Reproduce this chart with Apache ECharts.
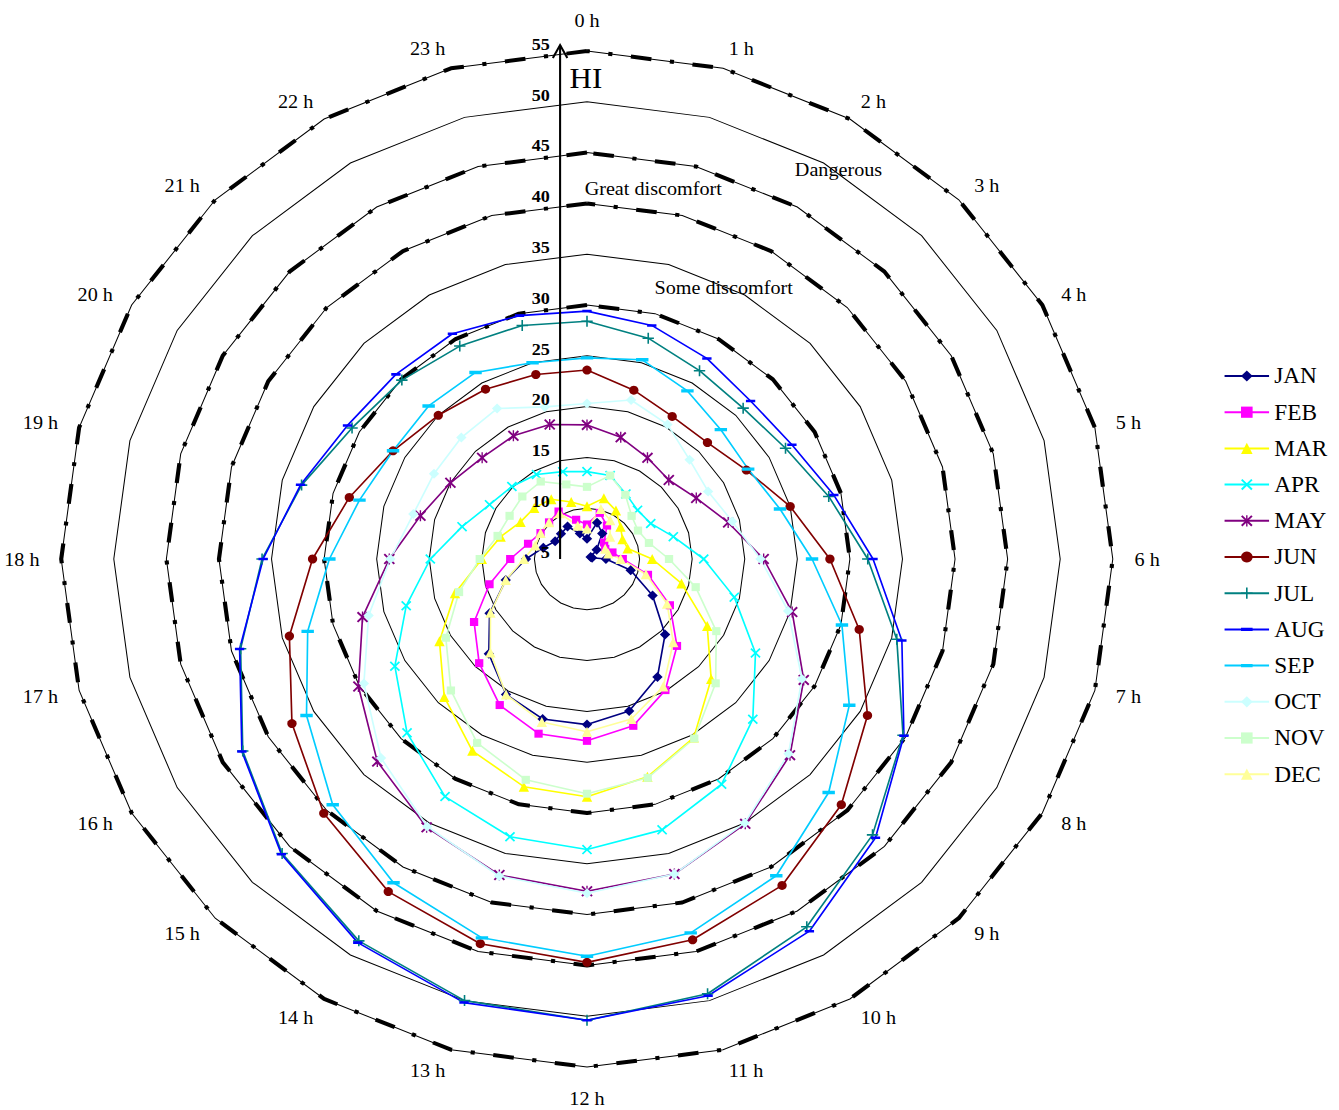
<!DOCTYPE html>
<html>
<head>
<meta charset="utf-8">
<script src="https://cdn.jsdelivr.net/npm/echarts@6/dist/echarts.min.js"></script>
<style>
html,body{margin:0;padding:0;background:#ffffff;overflow:hidden;}
#chart{width:1339px;height:1110px;transform:scaleX(1.035);transform-origin:587px 0;}
</style>
</head>
<body>
<div id="chart"></div>
<script>
// ---------------- DATA ----------------
const hours = ['0 h','1 h','2 h','3 h','4 h','5 h','6 h','7 h','8 h','9 h','10 h','11 h',
               '12 h','13 h','14 h','15 h','16 h','17 h','18 h','19 h','20 h','21 h','22 h','23 h'];
const hiTicks = [5, 10, 15, 20, 25, 30, 35, 40, 45, 50, 55];
const hiMin = 5;
const hiMax = 55;
const comfortLevels = [30, 40, 45, 55];
const comfortNames = ['Some discomfort', 'Great discomfort', 'Dangerous'];
const months = ['JAN','FEB','MAR','APR','MAY','JUN','JUL','AUG','SEP','OCT','NOV','DEC'];

const JAN = [7.0, 8.7, 7.9, 6.3, 5.4, 5.5, 6.8, 9.3, 12.2, 15.5, 18.4, 20.5, 21.3, 21.3, 20.4, 18.2, 15.7, 13.0, 10.8, 9.3, 8.5, 8.5, 8.7, 7.6];
const FEB = [8.4, 9.7, 8.8, 7.3, 7.0, 7.5, 8.4, 11.0, 14.1, 17.1, 19.9, 22.0, 22.9, 22.8, 21.6, 19.5, 17.4, 14.6, 12.3, 10.8, 10.1, 10.1, 10.4, 9.0];
const MAR = [10.2, 11.2, 10.5, 9.5, 8.9, 9.0, 11.2, 14.3, 18.2, 21.7, 25.3, 27.2, 28.4, 28.2, 26.8, 24.2, 21.2, 18.0, 15.0, 13.5, 12.3, 12.1, 11.8, 10.8];
const APR = [13.6, 13.5, 12.4, 11.8, 12.0, 13.5, 16.1, 19.5, 23.5, 27.3, 30.6, 32.6, 33.6, 33.3, 32.0, 29.2, 26.1, 22.8, 19.9, 17.3, 15.7, 15.1, 14.6, 13.9];
const MAY = [18.2, 17.4, 16.5, 16.0, 17.0, 18.9, 21.8, 25.2, 28.8, 32.3, 35.1, 37.1, 37.7, 37.2, 35.5, 33.2, 30.1, 27.1, 23.8, 21.4, 20.0, 19.1, 19.0, 18.7];
const JUN = [23.6, 22.2, 21.2, 21.2, 22.5, 25.0, 28.1, 31.8, 35.8, 39.2, 42.1, 43.8, 44.7, 44.2, 42.8, 40.4, 37.4, 34.3, 31.1, 28.4, 26.3, 25.0, 24.3, 23.8];
const JUL = [28.4, 27.5, 26.4, 26.0, 26.8, 28.8, 31.7, 35.5, 39.7, 43.4, 46.8, 49.3, 50.4, 50.0, 48.4, 46.0, 42.8, 39.1, 35.9, 33.1, 30.8, 29.9, 29.2, 28.8];
const AUG = [29.4, 28.8, 27.8, 27.0, 27.5, 29.3, 32.2, 36.0, 39.8, 43.8, 47.3, 49.5, 50.4, 50.2, 48.6, 46.1, 42.9, 39.2, 35.8, 33.2, 31.3, 30.7, 30.6, 29.8];
const SEP = [24.8, 25.3, 24.1, 23.0, 22.7, 24.0, 26.4, 30.1, 33.8, 37.5, 41.0, 43.1, 44.1, 43.6, 41.8, 39.2, 35.8, 32.5, 29.5, 27.4, 26.3, 26.3, 26.2, 25.0];
const OCT = [20.3, 21.2, 20.3, 18.8, 18.3, 19.3, 21.5, 24.8, 28.6, 32.1, 35.0, 37.1, 37.9, 37.3, 35.4, 32.7, 29.5, 26.5, 23.7, 22.1, 21.8, 21.9, 22.1, 20.5];
const NOV = [12.1, 13.5, 12.3, 11.0, 10.6, 11.1, 12.8, 15.7, 19.2, 22.3, 25.4, 27.3, 28.1, 27.5, 25.9, 23.3, 20.5, 17.6, 15.2, 13.8, 13.5, 13.7, 13.8, 12.6];
const DEC = [8.0, 10.1, 9.4, 8.1, 7.0, 7.1, 8.2, 10.8, 13.8, 16.6, 19.5, 21.3, 22.0, 21.6, 20.4, 18.0, 15.6, 13.0, 11.0, 10.1, 10.1, 10.1, 10.2, 8.4];

const monthValues = [JAN, FEB, MAR, APR, MAY, JUN, JUL, AUG, SEP, OCT, NOV, DEC];

// ---------------- STYLE ----------------
const CX = 587, CY = 559, R = 508;
const FONT = '"Liberation Serif", "Times New Roman", serif';

const P_X = 'path://M0,1.2L1.2,0L5,3.8L8.8,0L10,1.2L6.2,5L10,8.8L8.8,10L5,6.2L1.2,10L0,8.8L3.8,5Z';
const P_STAR = 'path://M0,1.2L1.2,0L5,3.8L8.8,0L10,1.2L6.2,5L10,8.8L8.8,10L5,6.2L1.2,10L0,8.8L3.8,5Z M4.4,0H5.6V3.6H4.4Z M4.4,6.4H5.6V10H4.4Z';
const P_PLUS = 'path://M4.3,0H5.7V4.3H10V5.7H5.7V10H4.3V5.7H0V4.3H4.3Z';
const P_DASH = 'path://M0,0L0.01,0L0,0.01Z M10,10L9.99,10L10,9.99Z M0,3.6H10V6.4H0Z';

const monthStyle = [
  {color:'#000080', symbol:'diamond',  size:10},
  {color:'#FF00FF', symbol:'rect',     size:8},
  {color:'#FFFF00', symbol:'triangle', size:10},
  {color:'#00FFFF', symbol:P_X,        size:10},
  {color:'#800080', symbol:P_STAR,     size:11},
  {color:'#800000', symbol:'circle',   size:9},
  {color:'#008080', symbol:P_PLUS,     size:11},
  {color:'#0000FF', symbol:P_DASH,     size:9},
  {color:'#00CCFF', symbol:P_DASH,     size:12},
  {color:'#CCFFFF', symbol:'diamond',  size:10},
  {color:'#CCFFCC', symbol:'rect',     size:8},
  {color:'#FFFF99', symbol:'triangle', size:10}
];

// Radar in ECharts runs counter-clockwise: reverse hours after 0 h to get clockwise
const order = [0].concat(hours.map((_, i) => i).slice(1).reverse());
const indicators = order.map(i => ({name: hours[i], min: hiMin, max: hiMax}));
const reorder = arr => order.map(i => arr[i]);

const series = [];

// dummy line series (first, so the legend shows line+marker icons)
months.forEach((m, k) => {
  const st = monthStyle[k];
  series.push({
    type:'line', name:m, data:[], xAxisIndex:0, yAxisIndex:0,
    symbol:st.symbol, symbolSize:st.size,
    lineStyle:{color:st.color, width:1.6},
    itemStyle:{color:st.color}
  });
});

// comfort threshold rings
series.push({
  type:'radar', name:'levels', silent:true, symbol:'none', z:2,
  lineStyle:{color:'#000', width:4, type:[20, 18, 4, 18]},
  data: comfortLevels.map(v => ({value: reorder(hours.map(() => v))}))
});

// monthly series
months.forEach((m, k) => {
  const st = monthStyle[k];
  series.push({
    type:'radar', name:m, silent:true, z:3,
    symbol:st.symbol, symbolSize:st.size,
    lineStyle:{color:st.color, width:1.6},
    itemStyle:{color:st.color, opacity:1},
    data:[{value: reorder(monthValues[k]), name:m}]
  });
});

const unit = R / (hiMax - hiMin);
const graphics = [
  {type:'line', silent:true, z:100, shape:{x1:CX-26, y1:CY, x2:CX-26, y2:CY-R-6}, style:{stroke:'#000', lineWidth:2}},
  {type:'polyline', silent:true, z:100, shape:{points:[[CX-33, CY-R+7],[CX-26, CY-R-6],[CX-19, CY-R+7]]}, style:{stroke:'#000', lineWidth:2, fill:null}},
  {type:'text', silent:true, z:100, x:CX-1, y:CY-R+27, style:{text:'HI', fontSize:30, fontFamily:FONT, fill:'#000', align:'center', verticalAlign:'middle'}}
];
hiTicks.forEach(v => {
  graphics.push({type:'text', silent:true, z:100, x:CX-36, y:CY-(v-hiMin)*unit-7,
    style:{text:String(v), fontSize:17.5, fontWeight:'bold', fontFamily:FONT, fill:'#000', align:'right', verticalAlign:'middle'}});
});
// zone labels
const zoneLabelPos = [[719, 287], [651, 188], [830, 169]];
comfortNames.forEach((t, i) => {
  graphics.push({type:'text', silent:true, z:100, x:zoneLabelPos[i][0], y:zoneLabelPos[i][1],
    style:{text:t, fontSize:19.5, fontFamily:FONT, fill:'#000', align:'center', verticalAlign:'middle'}});
});

const chart = echarts.init(document.getElementById('chart'), null, {renderer:'svg'});
chart.setOption({
  animation:false,
  backgroundColor:'#ffffff',
  grid:{left:-20, top:-20, width:1, height:1, show:false},
  xAxis:{type:'value', show:false},
  yAxis:{type:'value', show:false},
  legend:{
    orient:'vertical', left:1197, top:359,
    itemWidth:43, itemHeight:14, itemGap:12.2,
    selectedMode:false,
    textStyle:{fontSize:22.5, fontFamily:FONT, color:'#000', lineHeight:24},
    data:months
  },
  radar:{
    center:[CX, CY], radius:R, startAngle:90, splitNumber:10, shape:'polygon',
    nameGap:21,
    axisName:{color:'#000', fontSize:19.5, fontFamily:FONT},
    axisLine:{show:false},
    axisTick:{show:false},
    axisLabel:{show:false},
    splitArea:{show:false},
    splitLine:{lineStyle:{color:'#000', width:1}},
    indicator:indicators
  },
  series:series,
  graphic:graphics
});
</script>
</body>
</html>
